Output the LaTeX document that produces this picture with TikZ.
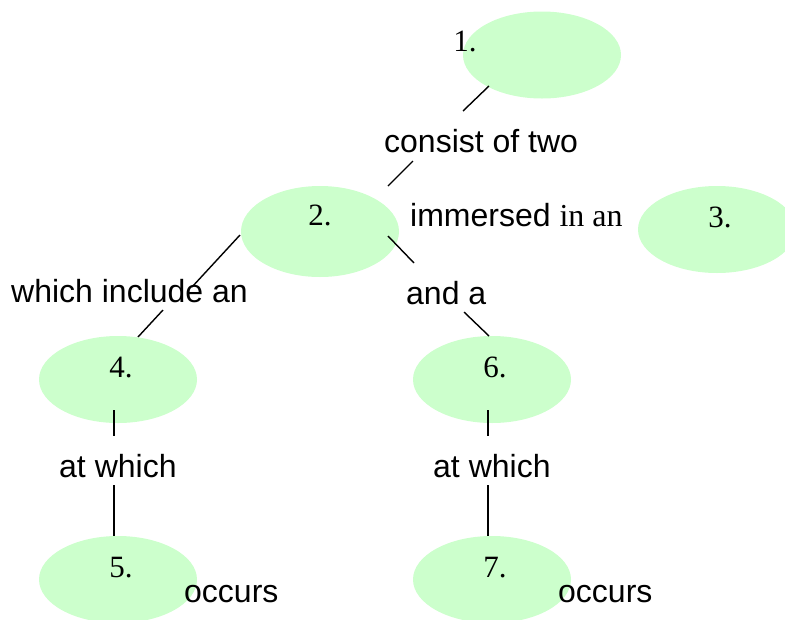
\documentclass[tikz,border=0pt]{standalone}
\usepackage{fontspec}
\setmainfont{Liberation Serif}
\setsansfont{Liberation Sans}
\usetikzlibrary{shapes.geometric}
\definecolor{cgreen}{RGB}{204,255,204}
\begin{document}
\begin{tikzpicture}[x=1pt,y=-1pt,
  concept/.style={ellipse,fill=cgreen,draw=none,minimum width=158pt,minimum height=87pt,inner sep=0pt},
  num/.style={font=\fontsize{31}{36}\selectfont\rmfamily,inner sep=0pt,anchor=base},
  lnk/.style={font=\fontsize{32}{38}\selectfont\sffamily,inner sep=0pt,anchor=base west},
  conn/.style={line width=1.4pt}]
\useasboundingbox (0,0) rectangle (785,619);
\clip (0,0) rectangle (785,619);
% concepts
\node[concept] (c1) at (542,55) {};
\node[concept,minimum height=91pt] (c2) at (320,231.5) {};
\node[concept] (c3) at (717,229.5) {};
\node[concept] (c4) at (118,379.5) {};
\node[concept] (c6) at (492,379.5) {};
\node[concept] (c5) at (118,579.5) {};
\node[concept] (c7) at (492,579.5) {};
% concept texts
\node[num] (t1) at (465,51) {1.};
\node[num] (t2) at (320,225) {2.};
\node[num] (t3) at (720,227) {3.};
\node[num] (t4) at (121,377) {4.};
\node[num] (t6) at (495,377) {6.};
\node[num] (t5) at (121,577) {5.};
\node[num] (t7) at (495,577) {7.};
% link labels
\node[lnk] (l1) at (384,152) {consist of two};
\node[lnk] (l2) at (410,226) {immersed {\rmfamily in an}};
\node[lnk] (l3) at (11,302) {which include an};
\node[lnk] (l4) at (406,304) {and a};
\node[lnk] (l5) at (59,477) {at which};
\node[lnk] (l6) at (433,477) {at which};
\node[lnk] (l7) at (184,602) {occurs};
\node[lnk] (l8) at (558,602) {occurs};
% connector end points
\coordinate (a1) at (489,86);   \coordinate (a2) at (463,111);
\coordinate (a3) at (413,161);  \coordinate (a4) at (388,186);
\coordinate (b1) at (240,235);  \coordinate (b2) at (192,287);
\coordinate (b3) at (163,310);  \coordinate (b4) at (138,337);
\coordinate (d1) at (388,236);  \coordinate (d2) at (414,263);
\coordinate (d3) at (464,312);  \coordinate (d4) at (489,336);
\coordinate (e1) at (114,410);  \coordinate (e2) at (114,436);
\coordinate (e3) at (114,485);  \coordinate (e4) at (114,536);
\coordinate (f1) at (488,410);  \coordinate (f2) at (488,436);
\coordinate (f3) at (488,485);  \coordinate (f4) at (488,536);
% connectors
\draw[conn] (a1) -- (a2);
\draw[conn] (a3) -- (a4);
\draw[conn] (b1) -- (b2);
\draw[conn] (b3) -- (b4);
\draw[conn] (d1) -- (d2);
\draw[conn] (d3) -- (d4);
\draw[conn] (e1) -- (e2);
\draw[conn] (e3) -- (e4);
\draw[conn] (f1) -- (f2);
\draw[conn] (f3) -- (f4);
\end{tikzpicture}
\end{document}
